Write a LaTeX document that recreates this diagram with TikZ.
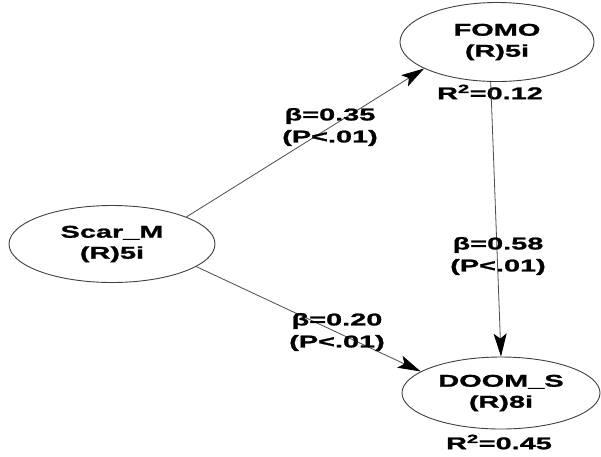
\documentclass[tikz,border=0pt]{standalone}
\usepackage{fontspec}
\newfontfamily\diagfont{Liberation Sans}[FakeStretch=1.7, BoldFeatures={FakeBold=1.3}]
\usetikzlibrary{shapes.geometric,arrows.meta}
\tikzset{
  lv/.style={draw=black!75, line width=0.9pt, ellipse, inner sep=0pt, align=center,
    font=\diagfont\bfseries\fontsize{17}{21}\selectfont},
  lbl/.style={align=center, inner sep=0pt, font=\diagfont\bfseries\fontsize{17}{22}\selectfont},
  path/.style={draw=black!70, line width=0.8pt, -{Stealth[length=23pt,width=13pt,inset=5pt,color=black]}}
}
\begin{document}
\begin{tikzpicture}[x=1pt,y=-1pt]
\useasboundingbox[fill=white] (0,0) rectangle (601,456);
\node[lv, minimum width=206pt, minimum height=77pt] (scar) at (112,244) {Scar\_M\\(R)5i};
\node[lv, minimum width=194pt, minimum height=79pt] (fomo) at (497,42) {FOMO\\(R)5i};
\node[lv, minimum width=198pt, minimum height=72pt] (doom) at (501,393) {DOOM\_S\\(R)8i};
\node[lbl] (r2f) at (490,92) {R\textsuperscript{2}=0.12};
\node[lbl] (r2d) at (499,442) {R\textsuperscript{2}=0.45};
\draw[path] (scar.20) -- (fomo.200);
\draw[path] (scar.-15) -- (doom.165);
\draw[path] (fomo.-99) -- (doom.north);
\node[lbl] (b1) at (330,127) {β=0.35\\(P<.01)};
\node[lbl] (b2) at (337,332) {β=0.20\\(P<.01)};
\node[lbl] (b3) at (498,256) {β=0.58\\(P<.01)};
\end{tikzpicture}
\end{document}
